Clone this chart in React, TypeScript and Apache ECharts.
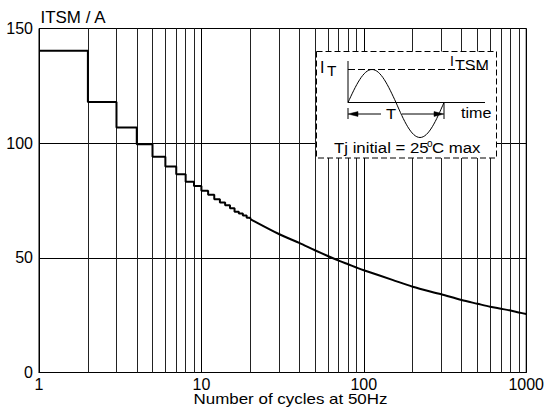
import React, { useEffect, useRef } from "react";
import * as echarts from "echarts";

// Stepped part: value held from n to n+1 cycles
const stepCycles = [1, 2, 3, 4, 5, 6, 7, 8, 9, 10, 11, 12, 13, 14, 15, 16, 17, 18, 19];
const stepValues = [140.3, 118.0, 106.8, 99.5, 94.1, 89.8, 86.4, 83.2, 81.3, 79.2, 77.5, 75.5, 74.1, 72.9, 71.6, 70.1, 69.3, 68.5, 67.5];
// Smooth part
const curveCycles = [20, 30, 40, 50, 60, 70, 80, 90, 100, 150, 200, 300, 400, 500, 600, 700, 800, 900, 1000];
const curveValues = [66.9, 60.4, 56.5, 53.3, 50.8, 48.8, 47.2, 45.8, 44.6, 40.4, 37.4, 34.1, 31.6, 30.0, 28.7, 27.8, 27.0, 26.2, 25.5];
// Minor vertical grid lines of the log axis
const minorGridCycles = [2, 3, 4, 5, 6, 7, 8, 9, 20, 30, 40, 50, 60, 70, 80, 90, 200, 300, 400, 500, 600, 700, 800, 900];

const FONT = "'Liberation Sans', Arial, Helvetica, sans-serif";

export default function App() {
  const ref = useRef<HTMLDivElement>(null);
  useEffect(() => {
    if (!ref.current) return;
    const chart = echarts.init(ref.current, undefined, { renderer: "svg" });
    const stepData = stepCycles.map((c, i) => [c, stepValues[i]]);
    stepData.push([curveCycles[0], curveValues[0]]);
    const curveData = curveCycles.map((c, i) => [c, curveValues[i]]);

    const txt = (text: string, x: number, y: number, size: number, align: string, sx = 1) => ({
      type: "text",
      x,
      y,
      scaleX: sx,
      z: 110,
      silent: true,
      style: { text, x: 0, y: 0, fill: "#000", fontSize: size, fontFamily: FONT, align, verticalAlign: "middle" },
    });
    const ln = (x1: number, y1: number, x2: number, y2: number, dash?: number[]) => ({
      type: "line",
      z: 105,
      silent: true,
      shape: { x1, y1, x2, y2 },
      style: { stroke: "#000", lineWidth: 1, lineDash: dash || null, fill: null },
    });
    const bz = (p: number[]) => ({
      type: "bezierCurve",
      z: 105,
      silent: true,
      shape: { x1: p[0], y1: p[1], cpx1: p[2], cpy1: p[3], cpx2: p[4], cpy2: p[5], x2: p[6], y2: p[7] },
      style: { stroke: "#000", lineWidth: 1, fill: null },
    });
    const poly = (pts: number[][]) => ({
      type: "polygon",
      z: 106,
      silent: true,
      shape: { points: pts },
      style: { fill: "#000", stroke: "#000", lineWidth: 0.5 },
    });

    const base = 102.5, top = 69.5, bot = 137.5, x0 = 348, q = 24;
    const a = 0.3263 * q, b = 0.6383 * q;
    const up = 0.5125 * (base - top), dn = 0.5125 * (bot - base);

    chart.setOption({
      animation: false,
      grid: { left: 39, right: 17, top: 28.5, bottom: 37.5, show: true, borderColor: "#000", borderWidth: 1, backgroundColor: "transparent" },
      xAxis: {
        type: "log",
        logBase: 10,
        min: 1,
        max: 1000,
        axisLine: { show: true, lineStyle: { color: "#000", width: 1 } },
        axisTick: { show: false },
        splitLine: { show: true, lineStyle: { color: "#000", width: 1 } },
        minorSplitLine: { show: false },
        axisLabel: {
          color: "#000",
          fontSize: 16,
          fontFamily: FONT,
          margin: 4,
          showMaxLabel: true,
          showMinLabel: true,
          hideOverlap: false,
          formatter: (v: number) => String(Math.round(v)),
        },
      },
      yAxis: {
        type: "value",
        min: 0,
        max: 150,
        interval: 50,
        axisLine: { show: true, lineStyle: { color: "#000", width: 1 } },
        axisTick: { show: false },
        splitLine: { show: true, lineStyle: { color: "#000", width: 1 } },
        axisLabel: { color: "#000", fontSize: 16, fontFamily: FONT, margin: 6 },
      },
      series: [
        {
          type: "line",
          name: "grid",
          data: curveData,
          showSymbol: false,
          silent: true,
          z: 1,
          lineStyle: { opacity: 0 },
          markLine: {
            silent: true,
            animation: false,
            symbol: ["none", "none"],
            label: { show: false },
            emphasis: { disabled: true },
            lineStyle: { color: "#222", width: 1, type: "solid" },
            data: minorGridCycles.map((c) => ({ xAxis: c })),
          },
        },
        {
          type: "line",
          name: "steps",
          step: "end",
          data: stepData,
          showSymbol: false,
          z: 5,
          lineStyle: { color: "#000", width: 2 },
        },
        {
          type: "line",
          name: "curve",
          data: curveData,
          smooth: 0.3,
          showSymbol: false,
          z: 5,
          lineStyle: { color: "#000", width: 2 },
        },
      ],
      graphic: [
        txt("ITSM / A", 40.5, 17.5, 16, "left", 1.06),
        txt("Number of cycles at 50Hz", 290.5, 399, 15, "center", 1.13),
        {
          type: "rect",
          z: 100,
          silent: true,
          shape: { x: 316.5, y: 51.5, width: 180, height: 106.5 },
          style: { fill: "#fff", stroke: "#000", lineWidth: 1, lineDash: [6, 3] },
        },
        ln(x0, 61, x0, base),
        ln(x0, base, 485, base),
        ln(x0, top, 486, top, [7, 3]),
        bz([x0, base, x0 + a, base - up, x0 + b, top, x0 + q, top]),
        bz([x0 + q, top, x0 + 2 * q - b, top, x0 + 2 * q - a, base - up, x0 + 2 * q, base]),
        bz([x0 + 2 * q, base, x0 + 2 * q + a, base + dn, x0 + 2 * q + b, bot, x0 + 3 * q, bot]),
        bz([x0 + 3 * q, bot, x0 + 4 * q - b, bot, x0 + 4 * q - a, base + dn, x0 + 4 * q, base]),
        ln(357, 114, 381, 114),
        ln(402, 114, 434, 114),
        poly([[x0, 114], [358, 111.6], [358, 116.4]]),
        poly([[444, 114], [434, 111.6], [434, 116.4]]),
        ln(x0, 108, x0, 119),
        ln(444, base, 444, 119),
        txt("T", 391, 114, 15, "center", 1.1),
        txt("I", 320, 67, 16, "left"),
        txt("T", 327, 71, 14, "left", 1.1),
        txt("I", 450, 60.5, 14, "left"),
        txt("TSM", 455, 65, 14, "left", 1.15),
        txt("time", 461, 112.5, 14, "left", 1.15),
        txt("Tj initial = 25", 334, 148, 15, "left", 1.12),
        txt("o", 427, 143.5, 10, "left"),
        txt("C max", 432, 148, 15, "left", 1.12),
      ],
    });
    return () => chart.dispose();
  }, []);
  return <div ref={ref} style={{ position: "absolute", left: 0, top: 0, width: 547, height: 410 }} />;
}
